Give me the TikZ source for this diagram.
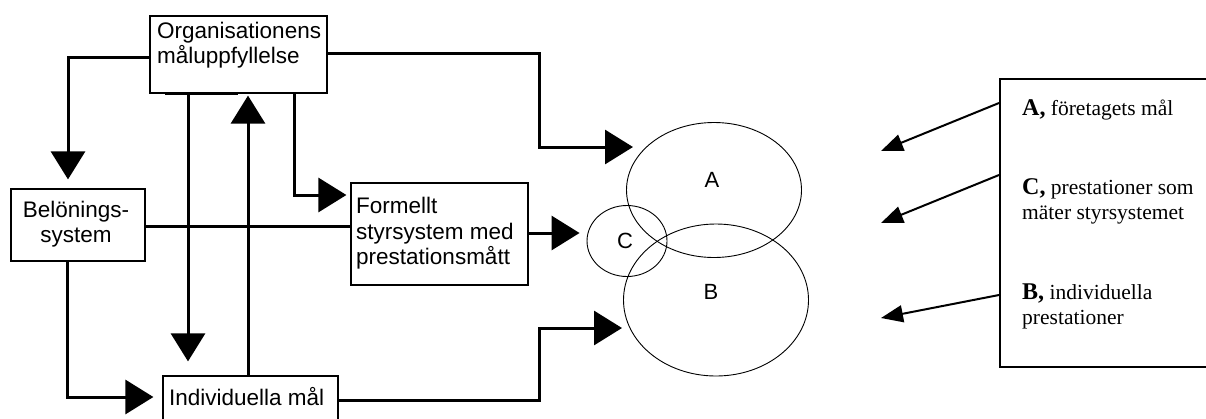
\documentclass[tikz,border=0pt]{standalone}
\usepackage{fontspec}
\setmainfont{Liberation Serif}
\newfontfamily\arialf{Liberation Sans}
\usetikzlibrary{arrows.meta,shapes.geometric}
\newcommand{\lettbold}[1]{{\bfseries\fontsize{24}{25}\selectfont #1}}
\begin{document}
\begin{tikzpicture}[x=1pt,y=-1pt,
  box/.style={draw,rectangle,line width=1.2pt,inner sep=0pt},
  ell/.style={draw,ellipse,line width=0.9pt,inner sep=0pt},
  conn/.style={line width=3pt},
  bigtip/.style={-{Triangle[length=28pt,width=34pt]}},
  smalltip/.style={line width=2pt,-{Triangle[length=22pt,width=17pt]}},
  txt/.style={font=\arialf\fontsize{22.5}{25.5}\selectfont,inner sep=0pt},
  lbl/.style={font=\arialf\fontsize{22}{24}\selectfont,inner sep=0pt},
  rtxt/.style={font=\fontsize{21.5}{25.5}\selectfont,inner sep=0pt,anchor=base west,align=left}
]
\useasboundingbox (0,0) rectangle (1206,418);
\clip (0,0) rectangle (1206,418);
\fill[white] (0,0) rectangle (1206,418);

% boxes
\node[box, minimum width=177pt, minimum height=77pt] (org) at (238.5,54.5) {};
\node[box, minimum width=134pt, minimum height=72pt] (bel) at (78,225) {};
\node[box, minimum width=177pt, minimum height=102pt] (form) at (439.5,234) {};
\node[box, minimum width=175pt, minimum height=52pt] (ind) at (250.5,402) {};
\node[box, line width=2pt, minimum width=215pt, minimum height=288pt] (rbox) at (1107.5,223) {};

% texts in boxes (base anchor = last line)
\node[txt, anchor=base west, align=left] (orgt) at (157,63.5) {Organisationens\\måluppfyllelse};
\node[txt, anchor=base, align=center] (belt) at (76,242.5) {Belönings-\\system};
\node[txt, anchor=base west, align=left] (formt) at (356,264.5) {Formellt\\styrsystem med\\prestationsmått};
\node[txt, anchor=base west] (indt) at (169,405) {Individuella mål};

% ellipses
\node[ell, minimum width=175pt, minimum height=135pt] (ellA) at (714,190) {};
\node[ell, minimum width=185pt, minimum height=152pt] (ellB) at (716,300) {};
\node[ell, minimum width=80pt, minimum height=71pt] (ellC) at (627,241) {};
\node[lbl] (labA) at (712,180) {A};
\node[lbl] (labB) at (711,292) {B};
\node[lbl] (labC) at (625,241) {C};

% right box texts
\node[rtxt] (ta) at (1022,115) {\lettbold{A,} företagets mål};
\node[rtxt] (tc) at (1022,219.5) {\lettbold{C,} prestationer som\\mäter styrsystemet};
\node[rtxt] (tb) at (1022,324.5) {\lettbold{B,} individuella\\prestationer};

% coordinates for free ends
\coordinate (pA) at (633,147);
\coordinate (pB) at (622,328);
\coordinate (tipA) at (881,151);
\coordinate (tipC) at (881,223);
\coordinate (tipB) at (881,318);

% connectors
\draw[conn] ([xshift=-73.5pt]org.south) -- ([xshift=-0.5pt]org.south);
\draw[conn,bigtip,shorten >=9pt] ([yshift=-2.5pt]org.west) -| ([xshift=-10pt]bel.north);
\draw[conn,bigtip,shorten >=14pt] ([xshift=-50.5pt]org.south) -- ([xshift=-62.5pt]ind.north);
\draw[conn,bigtip,shorten >=2pt] ([xshift=-2.5pt]ind.north) -- ([xshift=9.5pt]org.south);
\draw[conn,bigtip,shorten >=4pt] ([xshift=55.5pt]org.south) |- ([yshift=39pt]form.west);
\draw[conn,bigtip] ([yshift=1.5pt]org.east) -- ++(212,0) |- (pA);
\draw[conn] ([yshift=-1pt]bel.east) -- ([yshift=-1pt]bel.east -| form.west);
\draw[conn,bigtip,shorten >=9pt] ([xshift=-11pt]bel.south) |- ([yshift=5pt]ind.west);
\draw[conn,bigtip,shorten >=7pt] ([yshift=1pt]form.east) -- ([yshift=1pt]form.east -| ellC.west);
\draw[conn,bigtip] ([yshift=2pt]ind.east) -- ++(201,0) |- (pB);

\draw[smalltip] ([yshift=120pt]rbox.west) -- (tipA);
\draw[smalltip] ([yshift=48pt]rbox.west) -- (tipC);
\draw[smalltip] ([yshift=-72pt]rbox.west) -- (tipB);
\end{tikzpicture}
\end{document}
